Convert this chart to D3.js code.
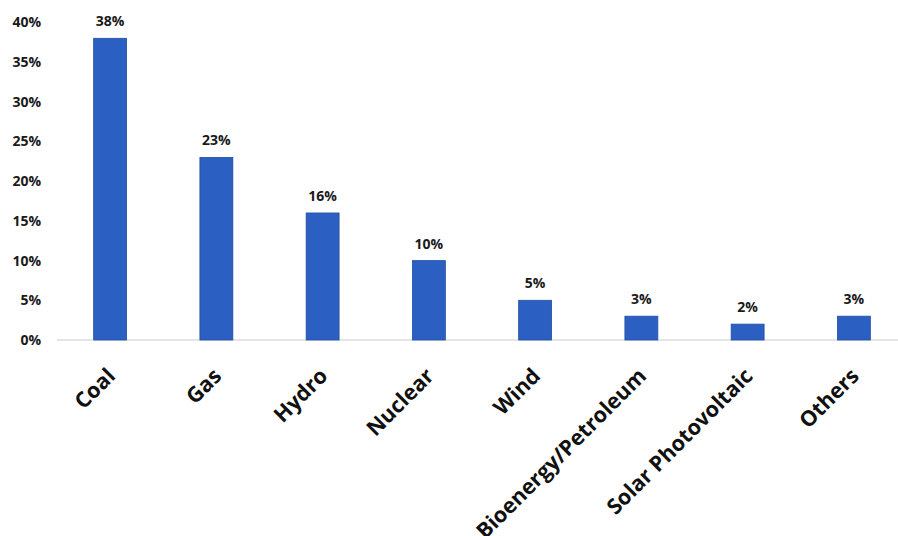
<!DOCTYPE html>
<html>
<head>
<meta charset="utf-8">
<script src="https://cdn.jsdelivr.net/npm/d3@7"></script>
<style>
  body { margin: 0; background: #fff; }
  svg { display: block; font-family: "Open Sans", "Noto Sans", sans-serif; }
</style>
</head>
<body>
<svg id="chart"></svg>
<script>
const categories = ["Coal", "Gas", "Hydro", "Nuclear", "Wind", "Bioenergy/Petroleum", "Solar Photovoltaic", "Others"];
const shares = [38, 23, 16, 10, 5, 3, 2, 3];
const yTicks = [0, 5, 10, 15, 20, 25, 30, 35, 40];

const width = 898;
const height = 536;

const svg = d3.select("#chart")
  .attr("width", width)
  .attr("height", height);

// x: one band per source
const x = d3.scaleBand()
  .domain(categories)
  .range([57, 907])
  .paddingInner(0.69)
  .paddingOuter(0.345);

const y = d3.scaleLinear()
  .domain([0, 38])
  .range([340, 38.3]);

// baseline
svg.append("line")
  .attr("x1", 57)
  .attr("x2", width)
  .attr("y1", y(0))
  .attr("y2", y(0))
  .style("stroke", "#c9cbd3")
  .style("stroke-width", 1);

// y tick labels
svg.append("g")
  .selectAll("text")
  .data(yTicks)
  .enter()
  .append("text")
  .attr("x", 41)
  .attr("y", d => y(d))
  .attr("dy", "0.35em")
  .style("text-anchor", "end")
  .style("font-size", "14px")
  .style("font-weight", "700")
  .style("fill", "#1a1a1a")
  .text(d => d + "%");

// bars
svg.append("g")
  .selectAll("rect")
  .data(shares)
  .enter()
  .append("rect")
  .attr("x", (d, i) => x(categories[i]))
  .attr("y", d => y(d))
  .attr("width", x.bandwidth())
  .attr("height", d => y(0) - y(d))
  .style("fill", "#2b5fc2")
  .style("stroke", "#21509f")
  .style("stroke-width", 0.8);

// value labels
svg.append("g")
  .selectAll("text")
  .data(shares)
  .enter()
  .append("text")
  .attr("x", (d, i) => x(categories[i]) + x.bandwidth() / 2)
  .attr("y", d => y(d) - 12)
  .style("text-anchor", "middle")
  .style("font-size", "14px")
  .style("font-weight", "700")
  .style("fill", "#1a1a1a")
  .text(d => d + "%");

// category labels, rotated
svg.append("g")
  .selectAll("text")
  .data(categories)
  .enter()
  .append("text")
  .attr("transform", d => `translate(${x(d) + x.bandwidth() / 2 - 5},${366}) rotate(-45)`)
  .attr("dy", "0.75em")
  .style("text-anchor", "end")
  .style("font-size", "21.5px")
  .style("font-weight", "700")
  .style("fill", "#111")
  .text(d => d);
</script>
</body>
</html>
